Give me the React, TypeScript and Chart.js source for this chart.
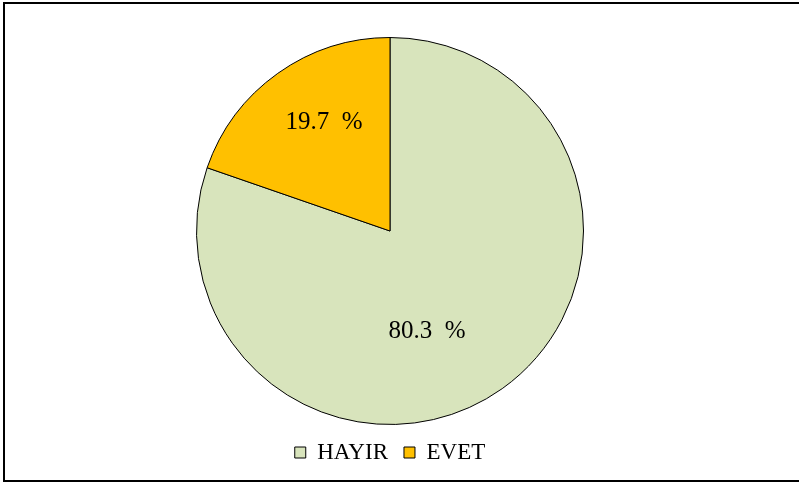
import React, { useEffect, useRef } from "react";
import { Chart, registerables } from "chart.js";

Chart.register(...registerables);

const categories = ["HAYIR", "EVET"];
const values = [80.3, 19.7];
const labelTexts = ["80.3  %", "19.7  %"];
const colors = ["#D8E4BC", "#FFC000"];

const frameBorder = {
  id: "frameBorder",
  beforeDraw(chart: any) {
    const ctx = chart.ctx;
    ctx.save();
    ctx.fillStyle = "#ffffff";
    ctx.fillRect(0, 0, chart.width, chart.height);
    ctx.strokeStyle = "#000000";
    ctx.lineWidth = 2;
    ctx.beginPath();
    ctx.moveTo(chart.width + 5, 3);
    ctx.lineTo(4, 3);
    ctx.lineTo(4, 481);
    ctx.lineTo(chart.width + 5, 481);
    ctx.stroke();
    ctx.restore();
  },
};

const sliceLabels = {
  id: "sliceLabels",
  afterDatasetsDraw(chart: any, _args: any, opts: any) {
    const ctx = chart.ctx;
    const meta = chart.getDatasetMeta(0);
    ctx.save();
    ctx.fillStyle = "#000";
    ctx.font = "25px 'Liberation Serif'";
    ctx.textAlign = "center";
    ctx.textBaseline = "middle";
    meta.data.forEach((arc: any, i: number) => {
      const p = arc.getProps(["x", "y", "startAngle", "endAngle", "outerRadius"], true);
      const mid = (p.startAngle + p.endAngle) / 2 + (opts.angleShift[i] || 0);
      const r = p.outerRadius * opts.frac[i];
      ctx.fillText(labelTexts[i], p.x + Math.cos(mid) * r, p.y + Math.sin(mid) * r);
    });
    ctx.restore();
  },
};

export default function App() {
  const ref = useRef<HTMLCanvasElement>(null);
  useEffect(() => {
    if (!ref.current) return;
    const chart = new Chart(ref.current, {
      type: "pie",
      data: {
        labels: categories,
        datasets: [
          {
            data: values,
            backgroundColor: colors,
            borderColor: "#000000",
            borderWidth: 1,
          },
        ],
      },
      plugins: [frameBorder, sliceLabels],
      options: {
        animation: false,
        responsive: false,
        layout: { padding: { top: 37, bottom: 10, left: 0, right: 19 } },
        plugins: {
          tooltip: { enabled: false },
          legend: {
            position: "bottom",
            labels: {
              boxWidth: 11,
              boxHeight: 11,
              color: "#000",
              font: { family: "'Liberation Serif'", size: 23 },
              padding: 16,
            },
          },
          sliceLabels: { frac: [0.555, 0.657], angleShift: [0.268, 0.074] },
        } as any,
      },
    });
    return () => chart.destroy();
  }, []);
  return (
    <div style={{ position: "absolute", left: 0, top: 0, width: 799, height: 484 }}>
      <canvas ref={ref} width={799} height={484} style={{ display: "block" }} />
    </div>
  );
}
